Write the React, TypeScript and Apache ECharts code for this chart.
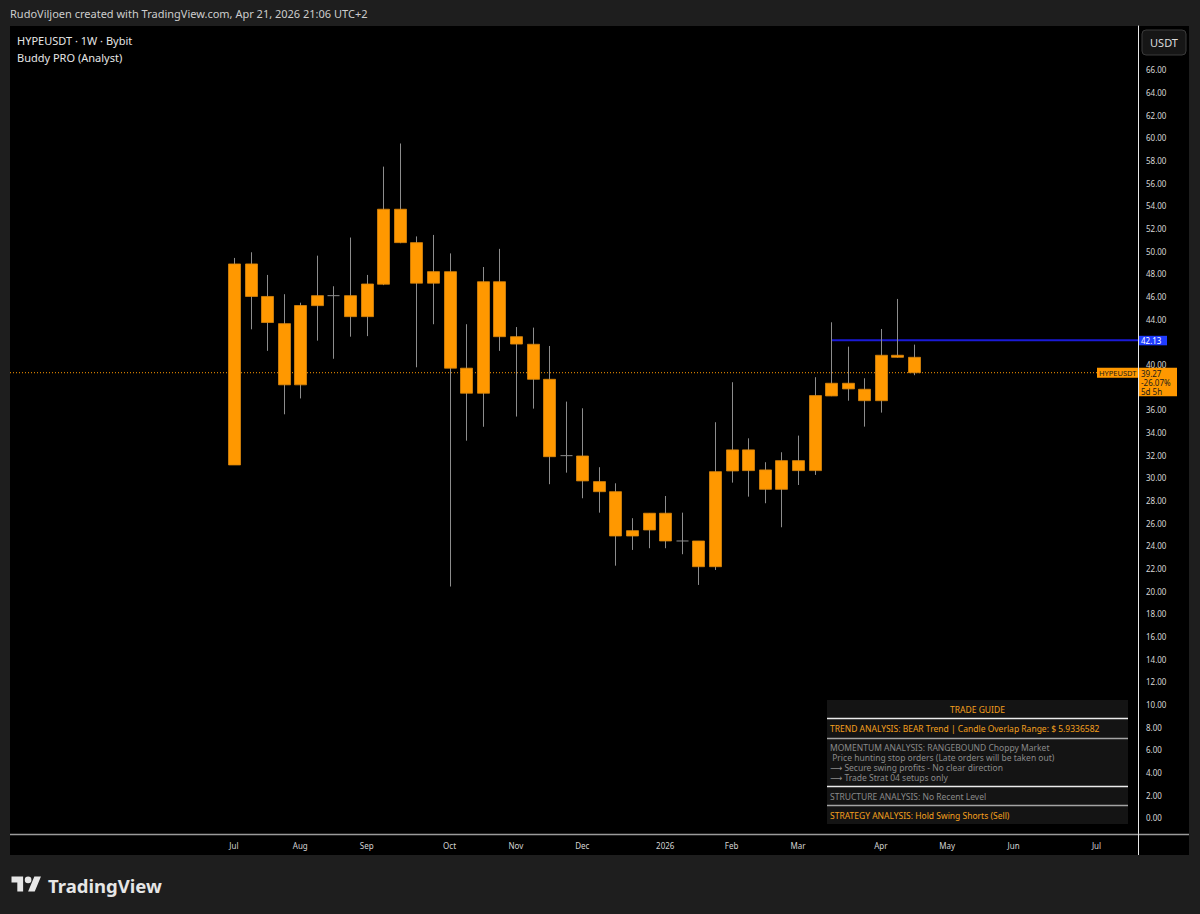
import React, { useEffect, useRef } from 'react';
import * as echarts from 'echarts';

// ---- Data (weekly HYPEUSDT, Bybit) ----
const weeks = [
  '2025-07-07', '2025-07-14', '2025-07-21', '2025-07-28',
  '2025-08-04', '2025-08-11', '2025-08-18', '2025-08-25',
  '2025-09-01', '2025-09-08', '2025-09-15', '2025-09-22', '2025-09-29',
  '2025-10-06', '2025-10-13', '2025-10-20', '2025-10-27',
  '2025-11-03', '2025-11-10', '2025-11-17', '2025-11-24',
  '2025-12-01', '2025-12-08', '2025-12-15', '2025-12-22', '2025-12-29',
  '2026-01-05', '2026-01-12', '2026-01-19', '2026-01-26',
  '2026-02-02', '2026-02-09', '2026-02-16', '2026-02-23',
  '2026-03-02', '2026-03-09', '2026-03-16', '2026-03-23', '2026-03-30',
  '2026-04-06', '2026-04-13', '2026-04-20',
];
const opens = [
  31.13, 48.87, 46.0, 43.6, 38.2, 45.19, 46.07, 46.07, 44.22, 47.08, 53.7, 50.75, 47.17,
  48.19, 39.67, 37.46, 47.3, 42.45, 41.78, 38.69, 31.95, 31.92, 29.66, 28.77, 24.86, 25.39,
  26.87, 24.42, 24.42, 22.15, 30.6, 32.46, 30.69, 28.98, 31.51, 30.63, 37.22, 38.34, 37.81,
  36.8, 40.81, 40.63,
];
const closes = [
  48.87, 46.0, 43.7, 38.2, 45.2, 46.07, 46.07, 44.22, 47.1, 53.7, 50.75, 47.17, 48.19,
  39.67, 37.46, 47.3, 42.45, 41.8, 38.69, 31.86, 31.95, 29.72, 28.77, 24.86, 25.33, 26.87,
  24.42, 24.42, 22.15, 30.54, 32.46, 30.63, 28.98, 31.51, 30.63, 37.25, 38.34, 37.84, 36.8,
  40.81, 40.63, 39.27,
];
const lows = [
  31.13, 43.1, 41.2, 35.6, 37.0, 42.1, 40.5, 42.45, 42.5, 47.0, 50.7, 39.75, 43.55,
  20.4, 33.27, 34.5, 41.2, 35.4, 36.1, 29.43, 30.45, 28.19, 26.92, 22.24, 23.63, 23.78,
  23.78, 23.25, 20.54, 21.86, 29.57, 28.33, 27.75, 25.63, 29.36, 30.25, 37.2, 36.8, 34.51,
  35.75, 40.6, 39.05,
];
const highs = [
  49.4, 49.9, 47.9, 46.2, 45.45, 49.6, 46.9, 51.2, 47.9, 57.46, 59.5, 51.3, 51.43,
  49.8, 43.55, 48.6, 50.2, 43.3, 43.25, 41.63, 36.72, 36.13, 30.93, 29.51, 26.43, 26.87,
  28.39, 26.92, 24.42, 34.9, 38.43, 33.48, 31.37, 32.25, 33.72, 38.87, 43.72, 41.57, 38.78,
  43.13, 45.78, 41.75,
];

const tickLabels = ['Jul', 'Aug', 'Sep', 'Oct', 'Nov', 'Dec', '2026', 'Feb', 'Mar', 'Apr', 'May', 'Jun', 'Jul'];
const tickDates = [
  '2025-07-07', '2025-08-04', '2025-09-01', '2025-10-06', '2025-11-03', '2025-12-01',
  '2026-01-05', '2026-02-02', '2026-03-02', '2026-04-06', '2026-05-04', '2026-06-01', '2026-07-06',
];
const priceTicks = [
  0, 2, 4, 6, 8, 10, 12, 14, 16, 18, 20, 22, 24, 26, 28, 30, 32, 34, 36,
  40, 44, 46, 48, 50, 52, 54, 56, 58, 60, 62, 64, 66,
];

const symbol = 'HYPEUSDT';
const levelPrice = 42.13;
const levelStart = '2026-03-16';
const changePct = '-26.07%';
const timeLeft = '5d 5h';

const headerText = 'RudoViljoen created with TradingView.com, Apr 21, 2026 21:06 UTC+2';
const legendLines = ['HYPEUSDT · 1W · Bybit', 'Buddy PRO (Analyst)'];
const guideTitle = 'TRADE GUIDE';
const guideTrend = 'TREND ANALYSIS: BEAR Trend | Candle Overlap Range: $ 5.9336582';
const guideMomentum = [
  'MOMENTUM ANALYSIS: RANGEBOUND Choppy Market',
  ' Price hunting stop orders (Late orders will be taken out)',
  '⟶ Secure swing profits - No clear direction',
  '⟶ Trade Strat 04 setups only',
];
const guideStructure = 'STRUCTURE ANALYSIS: No Recent Level';
const guideStrategy = 'STRATEGY ANALYSIS: Hold Swing Shorts (Sell)';

// ---- helpers ----
const WEEK = 7 * 24 * 3600 * 1000;
const t0 = Date.parse(weeks[0]);
const weekIndex = (d: string) => Math.round((Date.parse(d) - t0) / WEEK);

const X_MIN = -13.5;
const X_MAX = 54.5;
const Y_MIN = -1.53;
const Y_MAX = 69.87;

const FONT = '"Noto Sans", "DejaVu Sans", sans-serif';
const ORANGE = '#ff9800';
const GUIDE_ORANGE = '#f5a01e';
const GUIDE_GRAY = '#8a8a8a';

const TV_LOGO = 'M14 22H7V11H0V4h14v18zM28 22h-8l7.5-18h8L28 22zM24 8a4 4 0 1 1-8 0a4 4 0 0 1 8 0z';
let logoRegistered = false;
function ensureLogo() {
  if (logoRegistered) return;
  echarts.graphic.registerShape('tvlogo', echarts.graphic.extendPath(TV_LOGO, {}) as any);
  logoRegistered = true;
}

export default function App() {
  const ref = useRef<HTMLDivElement>(null);

  useEffect(() => {
    if (!ref.current) return;
    ensureLogo();
    const chart = echarts.init(ref.current, undefined, { renderer: 'svg' });

    const candleData = weeks.map((d, i) => [weekIndex(d), opens[i], closes[i], lows[i], highs[i]]);
    const lastClose = closes[closes.length - 1];

    const option: any = {
      animation: false,
      backgroundColor: '#1e1e1e',
      textStyle: { fontFamily: FONT },
      grid: { left: 10, right: 62, top: 26, bottom: 79 },
      xAxis: {
        type: 'value',
        min: X_MIN,
        max: X_MAX,
        splitLine: { show: false },
        axisLine: { show: false, onZero: false },
        axisTick: { show: false },
        axisLabel: {
          customValues: tickDates.map(weekIndex),
          formatter: (v: number) => {
            const i = tickDates.findIndex((d) => weekIndex(d) === Math.round(v));
            return i >= 0 ? tickLabels[i] : '';
          },
          color: '#d4d4d4',
          fontSize: 8,
          fontFamily: FONT,
          margin: 6,
        },
      },
      yAxis: {
        type: 'value',
        position: 'right',
        min: Y_MIN,
        max: Y_MAX,
        splitLine: { show: false },
        axisLine: { show: true, onZero: false, lineStyle: { color: '#e8e8e8', width: 1 } },
        axisTick: { show: false },
        axisLabel: {
          customValues: priceTicks,
          formatter: (v: number) => v.toFixed(2),
          color: '#d8d8d8',
          fontSize: 8,
          lineHeight: 8,
          fontFamily: FONT,
          margin: 8,
        },
      },
      series: [
        {
          type: 'line',
          data: [[X_MIN, lastClose], [X_MAX, lastClose]],
          symbol: 'none',
          silent: true,
          z: 1,
          lineStyle: { color: ORANGE, width: 1, type: [1, 2] },
        },
        {
          type: 'line',
          data: [[weekIndex(levelStart), levelPrice], [X_MAX, levelPrice]],
          symbol: 'none',
          silent: true,
          z: 1,
          lineStyle: { color: '#1a1ad6', width: 2 },
        },
        {
          type: 'custom',
          data: candleData,
          encode: { x: 0, y: [1, 2, 3, 4] },
          z: 3,
          renderItem: (_p: any, api: any) => {
            const x = api.value(0);
            const o = api.value(1);
            const c = api.value(2);
            const l = api.value(3);
            const h = api.value(4);
            const pO = api.coord([x, o]);
            const pC = api.coord([x, c]);
            const pL = api.coord([x, l]);
            const pH = api.coord([x, h]);
            const w = Math.round(api.size([1, 0])[0] * 0.7);
            const cx = Math.round(pO[0]) + 0.5;
            const top = Math.min(pO[1], pC[1]);
            const bot = Math.max(pO[1], pC[1]);
            const children: any[] = [
              {
                type: 'line',
                shape: { x1: cx, y1: pH[1], x2: cx, y2: pL[1] },
                style: { stroke: '#8c8c8c', lineWidth: 1 },
              },
            ];
            if (o === c) {
              children.push({
                type: 'line',
                shape: { x1: cx - w / 2, y1: pO[1], x2: cx + w / 2, y2: pO[1] },
                style: { stroke: '#8c8c8c', lineWidth: 1 },
              });
            } else {
              children.push({
                type: 'rect',
                shape: { x: cx - w / 2, y: top, width: w, height: Math.max(bot - top, 1.5) },
                style: { fill: ORANGE, stroke: '#d9870c', lineWidth: 0.8 },
              });
            }
            return { type: 'group', children };
          },
        },
      ],
    };

    chart.setOption(option);

    const yLast = chart.convertToPixel({ gridIndex: 0 } as any, [0, lastClose])[1];
    const yLevel = chart.convertToPixel({ gridIndex: 0 } as any, [0, levelPrice])[1];
    const xRight = chart.convertToPixel({ gridIndex: 0 } as any, [X_MAX, 0])[0];

    const txt = (x: number, y: number, text: string, fill: string, size: number, extra: any = {}) => ({
      type: 'text',
      x,
      y,
      z: 20,
      silent: true,
      style: {
        text,
        fill,
        fontSize: size,
        fontFamily: FONT,
        verticalAlign: 'middle',
        align: 'left',
        ...extra,
      },
    });

    const gx = 827;
    const gw = 301;
    const graphics: any[] = [
      // chart panel
      { type: 'rect', z: -100, silent: true, shape: { x: 10, y: 26, width: 1179, height: 829 }, style: { fill: '#000000' } },
      // time axis separator
      { type: 'line', z: 5, silent: true, shape: { x1: 10, y1: 834.5, x2: 1189, y2: 834.5 }, style: { stroke: '#9a9a9a', lineWidth: 1.5 } },
      { type: 'line', z: 5, silent: true, shape: { x1: xRight + 0.5, y1: 834, x2: xRight + 0.5, y2: 855 }, style: { stroke: '#e8e8e8', lineWidth: 1 } },
      // header
      txt(10, 13, headerText, '#cdcdcd', 11),
      txt(17, 40, legendLines[0], '#e6e6e6', 11),
      txt(17, 57, legendLines[1], '#e6e6e6', 11),
      // USDT button
      { type: 'rect', z: 20, silent: true, shape: { x: 1142, y: 30, width: 44, height: 25, r: 4 }, style: { fill: '#161616', stroke: '#3a3a3a', lineWidth: 1 } },
      txt(1164, 42.5, 'USDT', '#dcdcdc', 11, { align: 'center' }),
      // trade guide
      { type: 'rect', z: 15, silent: true, shape: { x: gx, y: 700, width: gw, height: 124 }, style: { fill: '#141414' } },
      { type: 'line', z: 16, silent: true, shape: { x1: gx, y1: 718.5, x2: gx + gw, y2: 718.5 }, style: { stroke: '#ececec', lineWidth: 1.5 } },
      { type: 'line', z: 16, silent: true, shape: { x1: gx, y1: 738.5, x2: gx + gw, y2: 738.5 }, style: { stroke: '#a4a4a4', lineWidth: 1.5 } },
      { type: 'line', z: 16, silent: true, shape: { x1: gx, y1: 786.5, x2: gx + gw, y2: 786.5 }, style: { stroke: '#ececec', lineWidth: 1.5 } },
      { type: 'line', z: 16, silent: true, shape: { x1: gx, y1: 805.5, x2: gx + gw, y2: 805.5 }, style: { stroke: '#a4a4a4', lineWidth: 1.5 } },
      txt(gx + gw / 2, 709, guideTitle, GUIDE_ORANGE, 8.5, { align: 'center' }),
      txt(830, 728.5, guideTrend, GUIDE_ORANGE, 8.5),
      txt(830, 747.7, guideMomentum[0], GUIDE_GRAY, 8.5, { lineHeight: 9 }),
      txt(830, 757.5, guideMomentum[1], GUIDE_GRAY, 8.5, { lineHeight: 9 }),
      txt(830, 767.3, guideMomentum[2], GUIDE_GRAY, 8.5, { lineHeight: 9 }),
      txt(830, 777.1, guideMomentum[3], GUIDE_GRAY, 8.5, { lineHeight: 9 }),
      txt(830, 796.5, guideStructure, GUIDE_GRAY, 8.5),
      txt(830, 815.5, guideStrategy, GUIDE_ORANGE, 8.5),
      // price labels
      { type: 'rect', z: 20, silent: true, shape: { x: xRight + 1, y: yLevel - 4.5, width: 28, height: 9.5 }, style: { fill: '#1f3cff' } },
      txt(xRight + 3, yLevel + 0.5, levelPrice.toFixed(2), '#ffffff', 8, { lineHeight: 8 }),
      { type: 'rect', z: 20, silent: true, shape: { x: xRight - 41, y: yLast - 5, width: 41, height: 10 }, style: { fill: ORANGE } },
      txt(xRight - 39, yLast + 0.2, symbol, '#1a1a1a', 7.5, { lineHeight: 8 }),
      { type: 'rect', z: 20, silent: true, shape: { x: xRight + 1, y: yLast - 5, width: 38, height: 28.5 }, style: { fill: ORANGE } },
      txt(xRight + 3, yLast + 0.4, lastClose.toFixed(2), '#1a1a1a', 8, { lineHeight: 8 }),
      txt(xRight + 3, yLast + 9.4, changePct, '#1a1a1a', 8, { lineHeight: 8 }),
      txt(xRight + 3, yLast + 18.4, timeLeft, '#1a1a1a', 8, { lineHeight: 8 }),
      // TradingView logo
      { type: 'tvlogo', z: 20, silent: true, x: 11.5, y: 873.3, scaleX: 0.83, scaleY: 0.83, style: { fill: '#e6e6e6' } },
      txt(48, 885, 'TradingView', '#e6e6e6', 18.5, { fontWeight: 'bold' }),
    ];

    chart.setOption({ graphic: graphics });

    return () => {
      chart.dispose();
    };
  }, []);

  return (
    <div
      ref={ref}
      style={{ position: 'absolute', left: 0, top: 0, width: 1200, height: 914 }}
    />
  );
}
